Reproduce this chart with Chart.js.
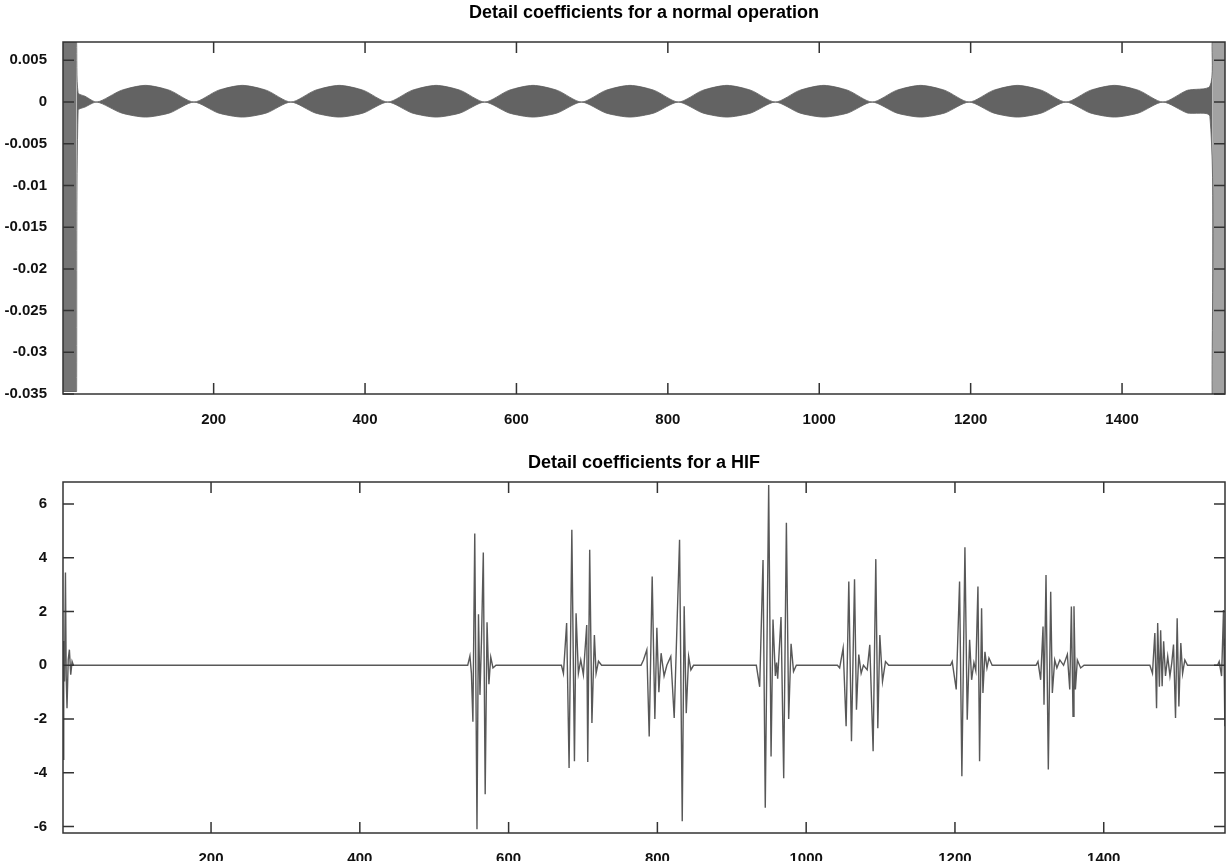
<!DOCTYPE html>
<html lang="en">
<head>
<meta charset="UTF-8">
<title>Detail coefficients</title>
<script src="https://cdn.jsdelivr.net/npm/chart.js"></script>
<style>
    body { margin: 0; background: #fff; }
    canvas { position: absolute; left: 0; }
</style>
</head>
<body>
<canvas id="normalChart" width="1227" height="430" style="top:0"></canvas>
<canvas id="hifChart" width="1227" height="431" style="top:430px"></canvas>
<script>
// tick values
const xTicks = [200, 400, 600, 800, 1000, 1200, 1400];
const normalYTicks = [0.005, 0, -0.005, -0.01, -0.015, -0.02, -0.025, -0.03, -0.035];
const hifYTicks = [6, 4, 2, 0, -2, -4, -6];

// normal operation: envelope of the dense oscillation (sample, upper, lower)
const leftBandX = [1, 19];
const leftBandTop = [0.0072, 0.0072];
const leftBandBottom = [-0.0347, -0.0347];

const normalX = [19, 21, 30, 46,
    78, 110, 142, 174,
    206, 238, 270, 302,
    334, 366, 398, 430,
    462, 494, 526, 558,
    590, 622, 654, 686,
    718, 750, 782, 814,
    846, 878, 910, 942,
    974, 1006, 1038, 1070,
    1102, 1134, 1166, 1198,
    1230, 1262, 1294, 1326,
    1358, 1390, 1422, 1454,
    1486, 1516, 1519];
const normalUpper = [0.0072, 0.0011, 0.0007, 0,
    0.0014, 0.002, 0.0014, 0,
    0.0014, 0.002, 0.0014, 0,
    0.0014, 0.002, 0.0014, 0,
    0.0014, 0.002, 0.0014, 0,
    0.0014, 0.002, 0.0014, 0,
    0.0014, 0.002, 0.0014, 0,
    0.0014, 0.002, 0.0014, 0,
    0.0014, 0.002, 0.0014, 0,
    0.0014, 0.002, 0.0014, 0,
    0.0014, 0.002, 0.0014, 0,
    0.0014, 0.002, 0.0014, 0,
    0.0014, 0.0019, 0.0072];
const normalLower = [-0.0347, -0.001, -0.0006, 0,
    -0.0013, -0.0018, -0.0013, 0,
    -0.0013, -0.0018, -0.0013, 0,
    -0.0013, -0.0018, -0.0013, 0,
    -0.0013, -0.0018, -0.0013, 0,
    -0.0013, -0.0018, -0.0013, 0,
    -0.0013, -0.0018, -0.0013, 0,
    -0.0013, -0.0018, -0.0013, 0,
    -0.0013, -0.0018, -0.0013, 0,
    -0.0013, -0.0018, -0.0013, 0,
    -0.0013, -0.0018, -0.0013, 0,
    -0.0013, -0.0018, -0.0013, 0,
    -0.0013, -0.0017, -0.035];

const rightBandX = [1519, 1536];
const rightBandTop = [0.0072, 0.0072];
const rightBandBottom = [-0.035, -0.035];

// HIF: bursts of the detail coefficients, [sample, value]
const hifStart = [[1, -3.5], [2, 0.9], [3, -0.6], [4.3, 3.45], [5.3, -0.4], [6.4, -1.6], [8, 0.2], [9.6, 0.58], [11.4, -0.35], [13.2, 0.14], [15, 0]];
const hifBurst1 = [[545, 0], [548, 0.35], [550, -0.3], [552, -2.1], [554.5, 4.9], [557.5, -6.1], [559.5, 1.9], [561.5, -1.1], [563.5, 0.9], [566, 4.2], [568.5, -4.8], [571, 1.6], [573.5, -0.7], [576, 0.3], [579, -0.1], [583, 0]];
const hifBurst2 = [[671, 0], [673.7, -0.3], [678, 1.57], [681.3, -3.82], [685, 5.04], [688.5, -3.57], [690.7, 1.94], [693.8, -0.3], [697, 0.2], [700.5, -0.35], [705, 1.5], [706.4, -3.6], [709, 4.3], [712, -2.15], [715.3, 1.13], [717.6, -0.3], [720.8, 0.15], [725, 0]];
const hifBurst3 = [[778, 0], [781.3, 0.2], [785.8, 0.58], [789, -2.65], [793, 3.3], [796.6, -2.0], [799.3, 1.4], [802, -1.0], [805, 0.45], [809, -0.4], [812.7, 0], [818, 0.33], [822.6, -1.96], [829.8, 4.67], [833.4, -5.8], [836, 2.2], [838.8, -1.78], [842, 0.33], [845, -0.17], [848.6, 0]];
const hifBurst4 = [[933, 0], [937.5, -0.8], [942, 3.92], [945, -5.3], [949.6, 6.71], [952.8, -3.39], [955.4, 1.7], [958.6, -0.4], [960.2, 0.1], [961.7, -0.5], [966.2, 1.8], [969.8, -4.2], [973.4, 5.3], [976.5, -2.0], [979.7, 0.8], [983, -0.23], [986.8, 0]];
const hifBurst5 = [[1042, 0], [1045, -0.1], [1049.7, 0.64], [1053.7, -2.27], [1057.3, 3.12], [1060.9, -2.83], [1065, 3.2], [1067.6, -1.65], [1070.7, 0.4], [1073.9, -0.3], [1077, 0], [1082, -0.17], [1085.5, 0.76], [1090, -3.2], [1093.6, 3.95], [1096.3, -2.34], [1099, 1.13], [1102.6, -0.6], [1106.6, 0.14], [1111, 0]];
const hifBurst6 = [[1194, 0], [1196.3, 0.14], [1201.7, -0.9], [1206.2, 3.12], [1209.3, -4.13], [1213.4, 4.39], [1216.5, -2.03], [1219.7, 0.95], [1222.4, -0.54], [1225.5, 0.1], [1228, -0.2], [1230.9, 2.93], [1233.1, -3.57], [1235.8, 2.12], [1237.6, -1.03], [1240.3, 0.5], [1243, -0.1], [1245.7, 0.27], [1250, 0]];
const hifBurst7 = [[1309, 0], [1311.6, 0.14], [1315.2, -0.54], [1318.4, 1.44], [1319.7, -1.47], [1322.4, 3.36], [1325.5, -3.88], [1328.7, 2.74], [1330.9, -1.03], [1334.1, 0.2], [1337, -0.1], [1341, 0.2], [1346, 0], [1351.1, 0.4], [1354.3, -0.9], [1356.5, 2.19], [1358.7, -1.9], [1360, 2.2], [1361.9, -0.9], [1364.5, 0.2], [1369, -0.1], [1373.5, 0]];
const hifBurst8 = [[1462, 0], [1465.5, -0.3], [1468.7, 1.2], [1471, -1.6], [1472.5, 1.57], [1474.8, -0.8], [1476.5, 1.3], [1478.5, -0.78], [1480.5, 0.89], [1483, -0.4], [1486, 0.33], [1489, -0.4], [1491.5, 0.1], [1493.8, 0.77], [1496.5, -1.96], [1498.7, 1.75], [1501, -1.53], [1503.6, 0.83], [1506, -0.3], [1509, 0.2], [1512.6, 0]];
const hifBurst9 = [[1553, 0], [1555.2, 0.14], [1558.4, -0.4], [1561, 2.06], [1562.8, -2.27], [1563.5, 1.0]];

Chart.defaults.font.family = '"Liberation Sans", Arial, Helvetica, sans-serif';
Chart.defaults.color = '#111';

function pts(xs, ys) {
    return xs.map((x, i) => ({ x: x, y: ys[i] }));
}

// box + inward ticks on all four sides, like the original figure
const frame = {
    id: 'frame',
    afterDatasetsDraw(chart) {
        const { ctx, chartArea: a, scales: { x, y } } = chart;
        const len = 11;
        ctx.save();
        ctx.strokeStyle = '#333';
        ctx.lineWidth = 1.5;
        ctx.beginPath();
        x.ticks.forEach(t => {
            const px = x.getPixelForValue(t.value);
            ctx.moveTo(px, a.bottom); ctx.lineTo(px, a.bottom - len);
            ctx.moveTo(px, a.top); ctx.lineTo(px, a.top + len);
        });
        y.ticks.forEach(t => {
            const py = y.getPixelForValue(t.value);
            ctx.moveTo(a.left, py); ctx.lineTo(a.left + len, py);
            ctx.moveTo(a.right, py); ctx.lineTo(a.right - len, py);
        });
        ctx.stroke();
        ctx.strokeRect(a.left, a.top, a.right - a.left, a.bottom - a.top);
        ctx.restore();
    }
};

function makeChart(id, o) {
    return new Chart(document.getElementById(id), {
        type: 'line',
        data: { datasets: o.datasets },
        options: {
            responsive: false,
            animation: false,
            devicePixelRatio: 1,
            layout: { padding: { left: 0, right: 2, top: 0, bottom: 0 } },
            elements: { point: { radius: 0 } },
            plugins: {
                legend: { display: false },
                tooltip: { enabled: false },
                title: {
                    display: true,
                    fullSize: false,
                    text: o.title,
                    color: '#000',
                    font: { size: 18, weight: 'bold', lineHeight: 1.2 },
                    padding: o.titlePad
                }
            },
            scales: {
                x: {
                    type: 'linear',
                    min: 1,
                    max: o.xMax,
                    grid: { display: false },
                    border: { display: false },
                    ticks: { padding: 9, maxRotation: 0, font: { size: 15, weight: 'bold' }, callback: v => String(v) },
                    afterBuildTicks: s => { s.ticks = xTicks.map(v => ({ value: v })); },
                    afterFit: s => { s.height = o.xHeight; }
                },
                y: {
                    min: o.yMin,
                    max: o.yMax,
                    grid: { display: false },
                    border: { display: false },
                    ticks: { padding: 8, font: { size: 15, weight: 'bold' }, callback: v => String(v) },
                    afterBuildTicks: s => { s.ticks = o.yTicks.map(v => ({ value: v })); },
                    afterFit: s => { s.width = 63; }
                }
            }
        },
        plugins: [frame]
    });
}

makeChart('normalChart', {
    title: 'Detail coefficients for a normal operation',
    titlePad: { top: 2, bottom: 18.4 },
    xMax: 1536,
    xHeight: 36,
    yMin: -0.035,
    yMax: 0.0072,
    yTicks: normalYTicks,
    datasets: [
        { data: pts(leftBandX, leftBandTop), fill: '+1', backgroundColor: '#757575', borderColor: '#5a5a5a', borderWidth: 1 },
        { data: pts(leftBandX, leftBandBottom), fill: false, borderColor: '#5a5a5a', borderWidth: 1 },
        { data: pts(normalX, normalUpper), fill: '+1', backgroundColor: '#636363', borderColor: '#5a5a5a', borderWidth: 0.8, tension: 0.25 },
        { data: pts(normalX, normalLower), fill: false, borderColor: '#5a5a5a', borderWidth: 0.8, tension: 0.25 },
        { data: pts(rightBandX, rightBandTop), fill: '+1', backgroundColor: '#a2a2a2', borderColor: '#666', borderWidth: 1 },
        { data: pts(rightBandX, rightBandBottom), fill: false, borderColor: '#666', borderWidth: 1 }
    ]
});

const hifPoints = [].concat(hifStart, hifBurst1, hifBurst2, hifBurst3, hifBurst4,
    hifBurst5, hifBurst6, hifBurst7, hifBurst8, hifBurst9).map(p => ({ x: p[0], y: p[1] }));

makeChart('hifChart', {
    title: 'Detail coefficients for a HIF',
    titlePad: { top: 22, bottom: 8.4 },
    xMax: 1563,
    xHeight: 28,
    yMin: -6.24,
    yMax: 6.82,
    yTicks: hifYTicks,
    datasets: [
        { data: hifPoints, fill: false, borderColor: '#585858', borderWidth: 1.4, tension: 0 }
    ]
});
</script>
</body>
</html>
